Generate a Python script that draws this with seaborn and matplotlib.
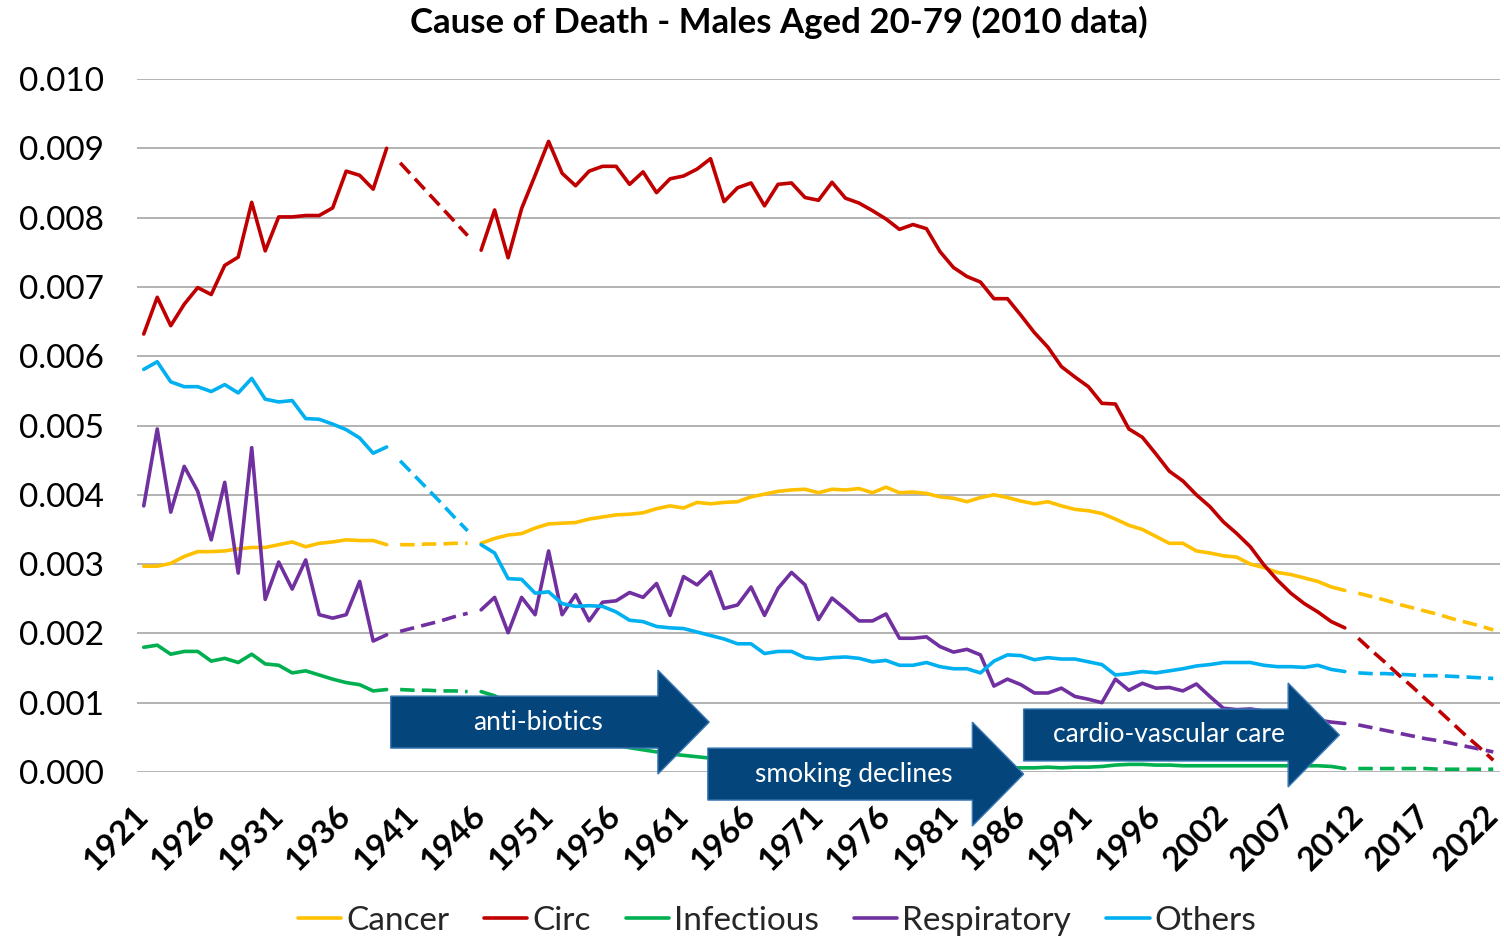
import numpy as np
import pandas as pd
import matplotlib
matplotlib.use("Agg")
import matplotlib.pyplot as plt
from matplotlib.lines import Line2D
from matplotlib.patches import Polygon
import seaborn as sns

# -----------------------------
# Data (rates in thousandths, scaled below)
# -----------------------------
years = list(range(1921, 2000)) + list(range(2001, 2023))
causes = ["Cancer", "Circ", "Infectious", "Respiratory", "Others"]
colors = ["#FFC000", "#C00000", "#00B050", "#7030A0", "#00B0F0"]

# 1921-1939 observed, 1940-1945 estimated (war gap), 1946-2011 observed, 2012-2022 projected
cancer_pre = [2.97, 2.97, 3.01, 3.11, 3.18, 3.18, 3.19, 3.22, 3.24, 3.24,
              3.28, 3.32, 3.25, 3.30, 3.32, 3.35, 3.34, 3.34, 3.28]
cancer_war = [3.28, 3.28, 3.29, 3.29, 3.30, 3.30]
cancer_post = [3.30, 3.37, 3.42, 3.44, 3.52, 3.58, 3.59, 3.60, 3.65, 3.68,
               3.71, 3.72, 3.74, 3.80, 3.84, 3.81, 3.89, 3.87, 3.89, 3.90,
               3.97, 4.01, 4.05, 4.07, 4.08, 4.03, 4.08,
               4.07, 4.09, 4.03, 4.11, 4.03, 4.04, 4.02, 3.97, 3.95, 3.90,
               3.96, 4.00, 3.96, 3.91, 3.87, 3.90, 3.84, 3.79, 3.77, 3.73,
               3.65, 3.56, 3.50, 3.40, 3.30, 3.30,
               3.19, 3.16, 3.12, 3.10, 3.00, 2.95, 2.88, 2.85, 2.80, 2.75, 2.67, 2.62]
cancer_proj = [2.58, 2.53, 2.48, 2.42, 2.37, 2.32, 2.27, 2.21, 2.16, 2.11, 2.05]

circ_pre = [6.32, 6.85, 6.44, 6.75, 6.99, 6.89, 7.31, 7.43, 8.22, 7.52,
            8.01, 8.01, 8.03, 8.03, 8.14, 8.67, 8.61, 8.41, 9.00]
circ_war = [8.79, 8.58, 8.37, 8.16, 7.95, 7.74]
circ_post = [7.53, 8.11, 7.42, 8.13, 8.61, 9.10, 8.64, 8.46, 8.67, 8.74,
             8.74, 8.48, 8.66, 8.36, 8.56, 8.60, 8.70, 8.85, 8.23, 8.43,
             8.50, 8.17, 8.48, 8.50, 8.29, 8.25, 8.51,
             8.28, 8.21, 8.10, 7.98, 7.83, 7.90, 7.84, 7.51, 7.28, 7.15,
             7.07, 6.83, 6.83, 6.59, 6.34, 6.13, 5.85, 5.70, 5.56, 5.32,
             5.31, 4.95, 4.83, 4.59, 4.34, 4.20,
             4.00, 3.83, 3.61, 3.44, 3.25, 2.99, 2.77, 2.58, 2.43, 2.31, 2.17, 2.08]
circ_proj = [1.93, 1.75, 1.58, 1.40, 1.23, 1.05, 0.88, 0.70, 0.52, 0.35, 0.17]

infect_pre = [1.80, 1.83, 1.70, 1.74, 1.74, 1.60, 1.64, 1.58, 1.70, 1.56,
              1.54, 1.43, 1.46, 1.40, 1.34, 1.29, 1.26, 1.17, 1.19]
infect_war = [1.19, 1.18, 1.18, 1.17, 1.17, 1.16]
infect_post = [1.16, 1.10, 1.00, 0.91, 0.82, 0.73, 0.65, 0.57, 0.50, 0.44,
               0.39, 0.35, 0.32, 0.29, 0.26, 0.24, 0.22, 0.20, 0.18, 0.16,
               0.15, 0.14, 0.13, 0.12, 0.11, 0.10, 0.10,
               0.09, 0.09, 0.08, 0.08, 0.08, 0.07, 0.07, 0.07, 0.06, 0.06,
               0.06, 0.06, 0.06, 0.06, 0.06, 0.07, 0.06, 0.07, 0.07, 0.08,
               0.10, 0.11, 0.11, 0.10, 0.10, 0.09,
               0.09, 0.09, 0.09, 0.09, 0.09, 0.09, 0.09, 0.09, 0.09, 0.09, 0.08, 0.05]
infect_proj = [0.05, 0.05, 0.05, 0.05, 0.05, 0.05, 0.04, 0.04, 0.04, 0.04, 0.04]

resp_pre = [3.84, 4.95, 3.75, 4.41, 4.05, 3.35, 4.18, 2.87, 4.68, 2.49,
            3.03, 2.64, 3.06, 2.27, 2.22, 2.27, 2.75, 1.89, 1.98]
resp_war = [2.03, 2.08, 2.13, 2.18, 2.24, 2.29]
resp_post = [2.34, 2.52, 2.01, 2.52, 2.27, 3.19, 2.27, 2.56, 2.18, 2.45,
             2.47, 2.59, 2.52, 2.72, 2.26, 2.82, 2.70, 2.89, 2.36, 2.41,
             2.67, 2.26, 2.65, 2.88, 2.70, 2.20, 2.51,
             2.35, 2.18, 2.18, 2.28, 1.93, 1.93, 1.95, 1.81, 1.73, 1.77,
             1.69, 1.24, 1.34, 1.26, 1.14, 1.14, 1.21, 1.09, 1.05, 1.00,
             1.34, 1.18, 1.28, 1.21, 1.22, 1.17,
             1.27, 1.09, 0.92, 0.90, 0.91, 0.88, 0.85, 0.81, 0.78, 0.75, 0.72, 0.70]
resp_proj = [0.68, 0.64, 0.60, 0.56, 0.52, 0.48, 0.45, 0.41, 0.37, 0.33, 0.29]

other_pre = [5.81, 5.92, 5.63, 5.56, 5.56, 5.49, 5.59, 5.47, 5.68, 5.38,
             5.34, 5.36, 5.10, 5.09, 5.02, 4.94, 4.82, 4.60, 4.69]
other_war = [4.49, 4.29, 4.09, 3.89, 3.68, 3.48]
other_post = [3.28, 3.16, 2.79, 2.78, 2.58, 2.60, 2.43, 2.39, 2.40, 2.39,
              2.31, 2.19, 2.17, 2.10, 2.08, 2.07, 2.02, 1.97, 1.92, 1.85,
              1.85, 1.71, 1.74, 1.74, 1.65, 1.63, 1.65,
              1.66, 1.64, 1.59, 1.61, 1.54, 1.54, 1.58, 1.52, 1.49, 1.49,
              1.43, 1.60, 1.69, 1.68, 1.62, 1.65, 1.63, 1.63, 1.59, 1.55,
              1.40, 1.42, 1.45, 1.43, 1.46, 1.49,
              1.53, 1.55, 1.58, 1.58, 1.58, 1.54, 1.52, 1.52, 1.51, 1.54, 1.48, 1.45]
other_proj = [1.43, 1.42, 1.42, 1.41, 1.40, 1.39, 1.39, 1.38, 1.37, 1.36, 1.35]

series = {
    "Cancer": [cancer_pre, cancer_war, cancer_post, cancer_proj],
    "Circ": [circ_pre, circ_war, circ_post, circ_proj],
    "Infectious": [infect_pre, infect_war, infect_post, infect_proj],
    "Respiratory": [resp_pre, resp_war, resp_post, resp_proj],
    "Others": [other_pre, other_war, other_post, other_proj],
}
part_names = ["pre", "war", "post", "proj"]
part_kind = {"pre": "observed", "war": "estimated", "post": "observed", "proj": "estimated"}

# annotation arrows
arrow_labels = ["anti-biotics", "smoking declines", "cardio-vascular care"]
arrow_start = [18.3, 41.8, 65.2]
arrow_tip = [41.9, 65.2, 88.6]
arrow_mid = [0.72e-3, -0.03e-3, 0.534e-3]

# -----------------------------
# Long-form table
# -----------------------------
frames = []
for cause, parts in series.items():
    start = 0
    for name, vals in zip(part_names, parts):
        frames.append(pd.DataFrame({
            "pos": np.arange(start, start + len(vals)),
            "rate": np.array(vals) * 1e-3,
            "cause": cause,
            "kind": part_kind[name],
            "segment": name,
        }))
        start += len(vals)
df = pd.concat(frames, ignore_index=True)

# -----------------------------
# Plot
# -----------------------------
sns.set_theme(style="white")
plt.rcParams["font.family"] = ["Lato", "DejaVu Sans"]

fig = plt.figure(figsize=(15.04, 9.4), dpi=100)
ax = fig.add_axes([137 / 1504, 1 - 772 / 940, 1363 / 1504, 693 / 940])

sns.lineplot(
    data=df, x="pos", y="rate", hue="cause", style="kind", units="segment",
    estimator=None, sort=False, hue_order=causes,
    palette=dict(zip(causes, colors)), style_order=["observed", "estimated"],
    dashes={"observed": "", "estimated": (4, 2)},
    linewidth=2.6, legend=False, ax=ax,
)

ax.set_xlim(-0.5, 100.5)
ax.set_ylim(0, 0.010)
ax.set_yticks(np.arange(0, 0.0101, 0.001))
ax.set_yticklabels([f"{v:.3f}" for v in np.arange(0, 0.0101, 0.001)])
ax.set_xticks(range(0, len(years), 5))
ax.set_xticklabels([str(y) for y in years[::5]], rotation=45, ha="right",
                   va="center", rotation_mode="anchor", fontweight="bold")
ax.tick_params(axis="x", length=0, pad=28, labelsize=24, labelcolor="black")
ax.tick_params(axis="y", length=0, pad=24, labelsize=24, labelcolor="black")
ax.set_xlabel("")
ax.set_ylabel("")
ax.yaxis.grid(True, color="#A6A6A6", linewidth=1.2)
ax.xaxis.grid(False)
for s in ax.spines.values():
    s.set_visible(False)

# arrows
for label, x0, tip, ym in zip(arrow_labels, arrow_start, arrow_tip, arrow_mid):
    body_h, head_h, head_len = 0.75e-3, 1.50e-3, 3.8
    base = tip - head_len
    verts = [(x0, ym + body_h / 2), (base, ym + body_h / 2), (base, ym + head_h / 2),
             (tip, ym), (base, ym - head_h / 2), (base, ym - body_h / 2),
             (x0, ym - body_h / 2)]
    ax.add_patch(Polygon(verts, closed=True, facecolor="#04467C", edgecolor="#3A78B5",
                         linewidth=1, clip_on=False, zorder=5))
    ax.text((x0 + base) / 2 + 1, ym, label, color="white", fontsize=19,
            ha="center", va="center", zorder=6, clip_on=False)

fig.text(779 / 1504, 1 - 22 / 940, "Cause of Death - Males Aged 20-79 (2010 data)",
         ha="center", va="center", fontsize=25, fontweight="bold", color="black")

handles = [Line2D([0], [0], color=c, linewidth=2.6) for c in colors]
fig.legend(handles, causes, loc="center", bbox_to_anchor=(777 / 1504, 1 - 921 / 940),
           ncol=5, frameon=False, fontsize=24, handlelength=1.3, handletextpad=0.15,
           columnspacing=1.05)

fig.savefig("out.png", dpi=100)
